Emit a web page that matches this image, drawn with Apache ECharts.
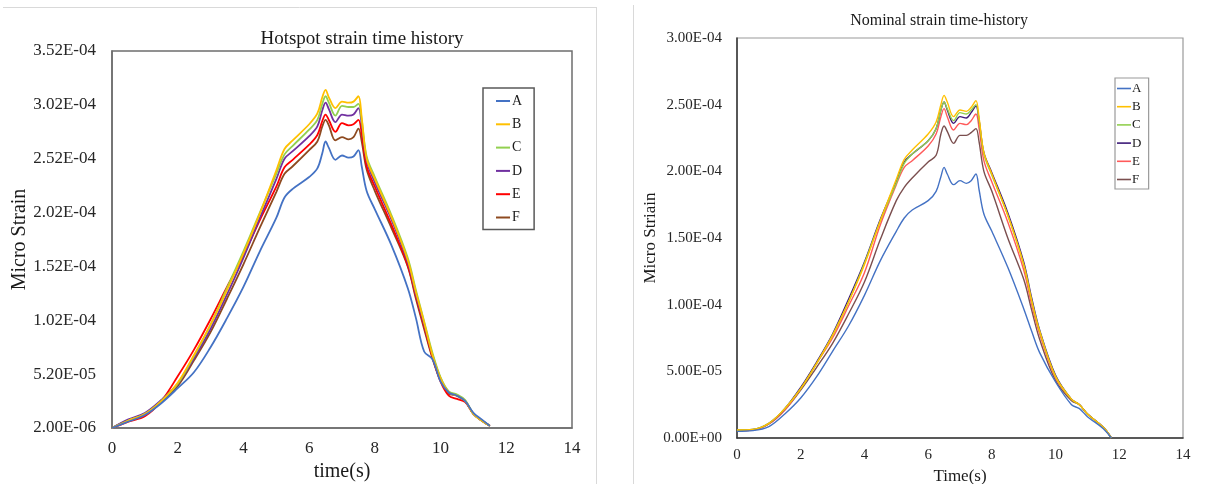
<!DOCTYPE html>
<html>
<head>
<meta charset="utf-8">
<script src="https://cdn.jsdelivr.net/npm/echarts@6/dist/echarts.min.js"></script>
<style>
html,body{margin:0;padding:0;background:#fff;}
#c{width:1218px;height:484px;}
</style>
</head>
<body>
<div id="c"></div>
<script>
// ---- data (strain values in units of 1e-6) ----
const SERIES_NAMES = ['A', 'B', 'C', 'D', 'E', 'F'];

// Left chart: Hotspot strain time history
const HOT_T = [0,0.5,1,1.5,2,2.5,3,3.5,4,4.5,5,5.25,5.5,6,6.25,6.4,6.5,6.6,6.8,7,7.2,7.35,7.5,7.6,7.75,8,8.5,9,9.25,9.5,9.75,10,10.25,10.5,10.75,11,11.25,11.5];
const HOT_A = [2,8,14,25,39,54,77,104,133,166,197,216,224,235,243,257,268,262,251,255,253,254,260,245,222,205,172,132,104,73,66,45,35,32,27,16,10,4];
const HOT_B = [2,9,15,27,44,70,98,130,164,201,241,261,269,284,294,309,316,309,299,305,304,305,310,290,252,233,198,158,128,100,70,48,35,32,27,15,9,4];
const HOT_C = [2,9,15,27,43,69,98,132,166,202,238,256,264,279,288,303,310,304,292,301,300,300,303,288,254,235,200,160,130,101,72,49,36,33,28,15,9,4];
const HOT_D = [2,10,16,28,43,67,94,126,160,197,233,252,259,273,282,297,304,298,286,293,292,293,299,284,250,230,196,156,126,98,70,48,35,32,27,15,9,4];
const HOT_E = [2,8,13,27,50,75,103,133,162,195,226,244,251,265,274,287,293,288,277,285,283,284,288,275,245,226,191,153,124,96,68,45,32,29,26,15,9,4];
const HOT_F = [2,9,14,26,41,65,91,122,154,188,221,238,245,260,268,282,288,283,269,272,270,272,280,268,242,222,188,152,122,94,67,46,34,32,27,15,9,4];
const HOT_YTICKS = [2e-6, 5.2e-5, 1.02e-4, 1.52e-4, 2.02e-4, 2.52e-4, 3.02e-4, 3.52e-4];

// Right chart: Nominal strain time-history
const NOM_T = [0,0.5,1,1.5,2,2.5,3,3.5,4,4.5,5,5.25,5.5,6,6.25,6.4,6.5,6.6,6.8,7,7.2,7.35,7.5,7.6,7.75,8,8.5,9,9.25,9.5,10,10.5,10.75,11,11.5,11.75];
const NOM_A = [5,5.5,8.5,18,30,46,65,84,107,133,155,165,171,178,185,196,203,198,190,193,191,193,198,186,168,155,128,97,80,64,42,25,22,16,7,0];
const NOM_B = [6,6.5,11,22,37,56,77,102,130,163,194,209,216,228,237,250,257,252,241,246,245,248,253,240,214,198,167,130,103,80,46,29,25,18,8,0];
const NOM_C = [6,6.5,11,22,37,56,77,102,131,163,191,206,213,223,232,246,252,247,238,244,243,246,250,238,213,197,167,130,103,80,46,29,25,18,8,0];
const NOM_D = [6,6.5,11,22,38,57,78,104,132,164,192,207,213,223,232,246,252,246,236,241,240,244,249,238,214,199,169,132,105,81,47,29,25,18,8,0];
const NOM_E = [5.5,6,10.5,21,37,56,75,99,124,160,190,203,208,219,228,241,247,241,231,236,235,238,243,232,208,192,162,126,100,78,45,29,25,18,8,0];
const NOM_F = [5.5,6,10.5,21,36,53,71,93,117,149,178,188,195,207,212,228,234,230,221,227,227,229,232,222,200,185,150,119,96,74,43,28,25,18,8,0];
const NOM_YTICKS = [0, 5e-5, 1e-4, 1.5e-4, 2e-4, 2.5e-4, 3e-4];

const X_TICKS = [0, 2, 4, 6, 8, 10, 12, 14];

// ---- styling ----
const FONT = "'Liberation Serif', 'Times New Roman', serif";
const HOT_COLORS = ['#4472C4', '#FFC000', '#92D050', '#7030A0', '#FF0000', '#8E4A20'];
const NOM_COLORS = ['#4472C4', '#FFC000', '#92D050', '#3D1A78', '#FF5A5A', '#7B4F4F'];

function sci(v) {
  if (Math.abs(v) < 1e-15) return '0.00E+00';
  const parts = v.toExponential(2).split('e');
  const n = parseInt(parts[1], 10);
  return parts[0] + 'E' + (n < 0 ? '-' : '+') + String(Math.abs(n)).padStart(2, '0');
}
function pairs(ts, vs) { return ts.map((t, i) => [t, vs[i] * 1e-6]); }

const hotData = [HOT_A, HOT_B, HOT_C, HOT_D, HOT_E, HOT_F];
const nomData = [NOM_A, NOM_B, NOM_C, NOM_D, NOM_E, NOM_F];

const series = [];
SERIES_NAMES.forEach((n, i) => {
  series.push({
    name: n, type: 'line', xAxisIndex: 0, yAxisIndex: 0,
    data: pairs(HOT_T, hotData[i]), smooth: 0.35, symbol: 'none',
    lineStyle: { width: 1.8, color: HOT_COLORS[i] }, itemStyle: { color: HOT_COLORS[i] },
    z: 10 - i
  });
});
SERIES_NAMES.forEach((n, i) => {
  series.push({
    name: n + ' ', type: 'line', xAxisIndex: 1, yAxisIndex: 1,
    data: pairs(NOM_T, nomData[i]), smooth: 0.35, symbol: 'none',
    lineStyle: { width: 1.4, color: NOM_COLORS[i] }, itemStyle: { color: NOM_COLORS[i] },
    z: 10 - i
  });
});

const chart = echarts.init(document.getElementById('c'), null, { renderer: 'canvas' });
chart.setOption({
  animation: false,
  backgroundColor: '#fff',
  title: [
    { text: 'Hotspot strain time history', left: 357, top: 25, textAlign: 'center',
      textStyle: { fontFamily: FONT, fontSize: 19, fontWeight: 'normal', color: '#1a1a1a' } },
    { text: 'Nominal strain time-history', left: 934, top: 8, textAlign: 'center',
      textStyle: { fontFamily: FONT, fontSize: 16, fontWeight: 'normal', color: '#1a1a1a' } }
  ],
  legend: [
    { data: SERIES_NAMES, orient: 'vertical', left: 483, top: 88, icon: 'rect',
      padding: [6, 12, 5, 13], itemGap: 9.3, itemWidth: 14, itemHeight: 2,
      borderColor: '#595959', borderWidth: 1.5, backgroundColor: '#fff',
      textStyle: { fontFamily: FONT, fontSize: 14, color: '#1a1a1a', padding: [0, 0, 0, -3] } },
    { data: SERIES_NAMES.map(n => n + ' '), orient: 'vertical', left: 1115, top: 78, icon: 'rect',
      padding: [4, 4, 3, 2], itemGap: 5.2, itemWidth: 14, itemHeight: 1.6,
      borderColor: '#9a9a9a', borderWidth: 1.2, backgroundColor: '#fff',
      textStyle: { fontFamily: FONT, fontSize: 13, color: '#1a1a1a', padding: [0, 0, 0, -4] } }
  ],
  grid: [
    { left: 112, top: 51, width: 460, height: 377, outerBoundsMode: 'none', containLabel: false,
      show: true, borderColor: '#6e6e6e', borderWidth: 1.5, backgroundColor: 'transparent' },
    { left: 737, top: 38, width: 446, height: 400, outerBoundsMode: 'none', containLabel: false,
      show: true, borderColor: '#9a9a9a', borderWidth: 1.2, backgroundColor: 'transparent' }
  ],
  xAxis: [
    { type: 'value', gridIndex: 0, min: 0, max: 14, interval: 2,
      name: 'time(s)', nameLocation: 'middle', nameGap: 30,
      nameTextStyle: { fontFamily: FONT, fontSize: 20, color: '#1a1a1a' },
      axisLine: { show: true, lineStyle: { color: '#6e6e6e', width: 1.5 } },
      axisTick: { show: false }, splitLine: { show: false },
      axisLabel: { fontFamily: FONT, fontSize: 17, color: '#262626', margin: 12,
        customValues: X_TICKS } },
    { type: 'value', gridIndex: 1, min: 0, max: 14, interval: 2,
      name: 'Time(s)', nameLocation: 'middle', nameGap: 27,
      nameTextStyle: { fontFamily: FONT, fontSize: 17, color: '#1a1a1a' },
      axisLine: { show: true, lineStyle: { color: '#333', width: 1.5 } },
      axisTick: { show: false }, splitLine: { show: false },
      axisLabel: { fontFamily: FONT, fontSize: 15, color: '#262626', margin: 10,
        customValues: X_TICKS } }
  ],
  yAxis: [
    { type: 'value', gridIndex: 0, min: 2e-6, max: 3.52e-4,
      name: 'Micro Strain', nameLocation: 'middle', nameGap: 82,
      nameTextStyle: { fontFamily: FONT, fontSize: 20, color: '#1a1a1a' },
      axisLine: { show: true, lineStyle: { color: '#6e6e6e', width: 1.5 } },
      axisTick: { show: false }, splitLine: { show: false },
      axisLabel: { fontFamily: FONT, fontSize: 17, color: '#262626', margin: 16,
        customValues: HOT_YTICKS, formatter: sci } },
    { type: 'value', gridIndex: 1, min: 0, max: 3e-4,
      name: 'Micro Striain', nameLocation: 'middle', nameGap: 72,
      nameTextStyle: { fontFamily: FONT, fontSize: 17, color: '#1a1a1a' },
      axisLine: { show: true, lineStyle: { color: '#333', width: 1.5 } },
      axisTick: { show: false }, splitLine: { show: false },
      axisLabel: { fontFamily: FONT, fontSize: 15, color: '#262626', margin: 15,
        customValues: NOM_YTICKS, formatter: sci } }
  ],
  graphic: [
    { type: 'line', shape: { x1: 3, y1: 7.5, x2: 596, y2: 7.5 }, style: { stroke: '#d9d9d9', lineWidth: 1 } },
    { type: 'line', shape: { x1: 596.5, y1: 7, x2: 596.5, y2: 484 }, style: { stroke: '#d9d9d9', lineWidth: 1 } },
    { type: 'line', shape: { x1: 633.5, y1: 5, x2: 633.5, y2: 484 }, style: { stroke: '#d9d9d9', lineWidth: 1 } }
  ],
  series: series
});
</script>
</body>
</html>
